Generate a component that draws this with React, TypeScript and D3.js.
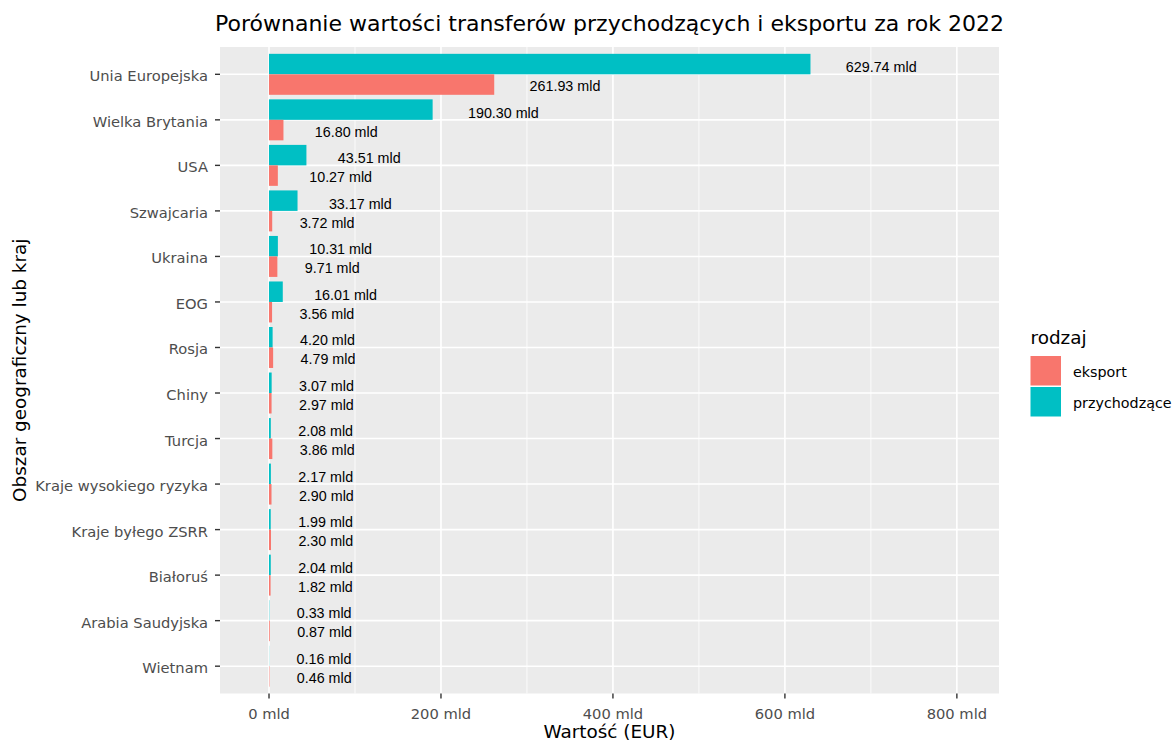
import React, { useEffect, useRef } from "react";
import * as d3 from "d3";

const categories = [
  "Unia Europejska",
  "Wielka Brytania",
  "USA",
  "Szwajcaria",
  "Ukraina",
  "EOG",
  "Rosja",
  "Chiny",
  "Turcja",
  "Kraje wysokiego ryzyka",
  "Kraje byłego ZSRR",
  "Białoruś",
  "Arabia Saudyjska",
  "Wietnam",
];
const przychodzace = [629.74, 190.3, 43.51, 33.17, 10.31, 16.01, 4.2, 3.07, 2.08, 2.17, 1.99, 2.04, 0.33, 0.16];
const eksport = [261.93, 16.8, 10.27, 3.72, 9.71, 3.56, 4.79, 2.97, 3.86, 2.9, 2.3, 1.82, 0.87, 0.46];
const seriesNames = ["eksport", "przychodzące"];
const seriesColors = ["#F8766D", "#00BFC4"];
const majorTicks = [0, 200, 400, 600, 800];
const minorTicks = [100, 300, 500, 700];

const W = 1175;
const H = 744;
const FONT = "'DejaVu Sans', sans-serif";
const LABEL_FONT = "'Liberation Sans', Arial, sans-serif";

export default function App() {
  const ref = useRef<SVGSVGElement | null>(null);

  useEffect(() => {
    const svg = d3.select(ref.current);
    svg.selectAll("*").remove();

    const panel = { left: 220, right: 999, top: 47, bottom: 693.5 };
    const x = d3.scaleLinear().domain([-57, 849]).range([panel.left, panel.right]);
    const yBand = d3
      .scalePoint<string>()
      .domain(categories)
      .range([panel.top, panel.bottom])
      .padding(0.6);
    const step = yBand.step();
    const barH = step * 0.45;

    // panel background
    svg
      .append("rect")
      .attr("x", panel.left)
      .attr("y", panel.top)
      .attr("width", panel.right - panel.left)
      .attr("height", panel.bottom - panel.top)
      .attr("fill", "#EBEBEB");

    // minor grid
    svg
      .selectAll(".minor")
      .data(minorTicks)
      .enter()
      .append("line")
      .attr("x1", (d) => x(d))
      .attr("x2", (d) => x(d))
      .attr("y1", panel.top)
      .attr("y2", panel.bottom)
      .attr("stroke", "#FFFFFF")
      .attr("stroke-width", 0.8);
    // major grid
    svg
      .selectAll(".majorx")
      .data(majorTicks)
      .enter()
      .append("line")
      .attr("x1", (d) => x(d))
      .attr("x2", (d) => x(d))
      .attr("y1", panel.top)
      .attr("y2", panel.bottom)
      .attr("stroke", "#FFFFFF")
      .attr("stroke-width", 1.6);
    svg
      .selectAll(".majory")
      .data(categories)
      .enter()
      .append("line")
      .attr("x1", panel.left)
      .attr("x2", panel.right)
      .attr("y1", (d) => yBand(d)!)
      .attr("y2", (d) => yBand(d)!)
      .attr("stroke", "#FFFFFF")
      .attr("stroke-width", 1.6);

    // bars
    const rows = categories.map((c, i) => ({ c, p: przychodzace[i], e: eksport[i] }));
    const g = svg.append("g");
    rows.forEach((r) => {
      const yc = yBand(r.c)!;
      g.append("rect")
        .attr("x", x(0))
        .attr("y", yc - barH)
        .attr("width", Math.max(0, x(r.p) - x(0)))
        .attr("height", barH)
        .attr("fill", seriesColors[1]);
      g.append("rect")
        .attr("x", x(0))
        .attr("y", yc)
        .attr("width", Math.max(0, x(r.e) - x(0)))
        .attr("height", barH)
        .attr("fill", seriesColors[0]);
    });

    // value labels (hjust = -0.5)
    const addLabel = (v: number, yb: number) => {
      const t = svg
        .append("text")
        .attr("y", yb)
        .attr("font-family", LABEL_FONT)
        .attr("font-size", 14.3)
        .attr("fill", "#000000")
        .text(`${v.toFixed(2)} mld`);
      const w = (t.node() as SVGTextElement).getComputedTextLength();
      t.attr("x", x(v) + 0.5 * w);
    };
    rows.forEach((r) => {
      const yc = yBand(r.c)!;
      addLabel(r.p, yc - 2.3);
      addLabel(r.e, yc + 16.8);
    });

    // y axis ticks and labels
    categories.forEach((c) => {
      const yc = yBand(c)!;
      svg
        .append("line")
        .attr("x1", panel.left - 5)
        .attr("x2", panel.left)
        .attr("y1", yc)
        .attr("y2", yc)
        .attr("stroke", "#333333")
        .attr("stroke-width", 1.4);
      svg
        .append("text")
        .attr("x", panel.left - 12)
        .attr("y", yc + 7)
        .attr("text-anchor", "end")
        .attr("font-family", FONT)
        .attr("font-size", 14.7)
        .attr("fill", "#4D4D4D")
        .text(c);
    });

    // x axis ticks and labels
    majorTicks.forEach((t) => {
      svg
        .append("line")
        .attr("x1", x(t))
        .attr("x2", x(t))
        .attr("y1", panel.bottom)
        .attr("y2", panel.bottom + 5)
        .attr("stroke", "#333333")
        .attr("stroke-width", 1.4);
      svg
        .append("text")
        .attr("x", x(t))
        .attr("y", 719)
        .attr("text-anchor", "middle")
        .attr("font-family", FONT)
        .attr("font-size", 14.7)
        .attr("fill", "#4D4D4D")
        .text(`${t} mld`);
    });

    // titles
    svg
      .append("text")
      .attr("x", (panel.left + panel.right) / 2)
      .attr("y", 31)
      .attr("text-anchor", "middle")
      .attr("font-family", FONT)
      .attr("font-size", 22)
      .attr("fill", "#000000")
      .text("Porównanie wartości transferów przychodzących i eksportu za rok 2022");
    svg
      .append("text")
      .attr("x", (panel.left + panel.right) / 2)
      .attr("y", 737.5)
      .attr("text-anchor", "middle")
      .attr("font-family", FONT)
      .attr("font-size", 18.4)
      .attr("fill", "#000000")
      .text("Wartość (EUR)");
    svg
      .append("text")
      .attr("transform", `translate(26, ${(panel.top + panel.bottom) / 2}) rotate(-90)`)
      .attr("text-anchor", "middle")
      .attr("font-family", FONT)
      .attr("font-size", 18.4)
      .attr("fill", "#000000")
      .text("Obszar geograficzny lub kraj");

    // legend
    const lg = svg.append("g");
    lg.append("text")
      .attr("x", 1030.5)
      .attr("y", 343.5)
      .attr("font-family", FONT)
      .attr("font-size", 18.4)
      .attr("fill", "#000000")
      .text("rodzaj");
    seriesNames.forEach((name, i) => {
      const top = 356 + i * 31;
      lg.append("rect")
        .attr("x", 1030.5)
        .attr("y", top)
        .attr("width", 30.5)
        .attr("height", 29.5)
        .attr("fill", seriesColors[i]);
      lg.append("text")
        .attr("x", 1073)
        .attr("y", top + 21)
        .attr("font-family", FONT)
        .attr("font-size", 14.3)
        .attr("fill", "#000000")
        .text(name);
    });
  }, []);

  return (
    <svg
      ref={ref}
      width={W}
      height={H}
      style={{ position: "absolute", left: 0, top: 0, background: "#FFFFFF" }}
    />
  );
}
